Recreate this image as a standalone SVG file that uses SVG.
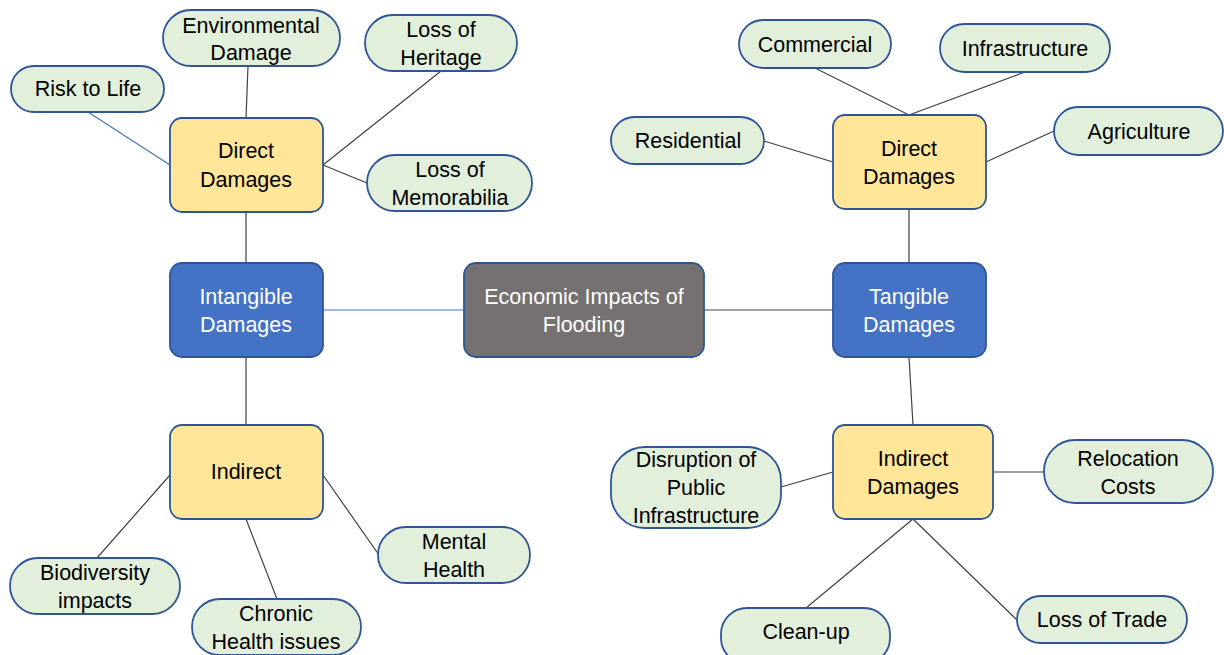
<svg xmlns="http://www.w3.org/2000/svg" width="1224" height="655" viewBox="0 0 1224 655">
<style>
.pill{fill:#E2EFDA;stroke:#2F5597;stroke-width:1.8}
.yel{fill:#FFE699;stroke:#2F5597;stroke-width:1.8}
.blu{fill:#4472C4;stroke:#2F5597;stroke-width:1.8}
.gry{fill:#767171;stroke:#2F5597;stroke-width:1.8}
text{font-family:"Liberation Sans",Arial,sans-serif;font-size:21.5px;text-anchor:middle;fill:#000}
.w{fill:#fff}
.c line{stroke:#404040;stroke-width:1.2}
.c line.b{stroke:#4472C4}
</style>
<rect width="1224" height="655" fill="#fff"/>
<g class="c" id="connectors">
<line class="b" x1="88" y1="112" x2="170" y2="165"/>
<line x1="248" y1="66" x2="246" y2="118"/>
<line x1="441" y1="71" x2="323" y2="165"/>
<line x1="367" y1="183" x2="323" y2="165"/>
<line x1="246" y1="212" x2="246" y2="263"/>
<line class="b" x1="323" y1="310" x2="464" y2="310"/>
<line x1="704" y1="310" x2="833" y2="310"/>
<line x1="246" y1="357" x2="246" y2="425"/>
<line x1="170" y1="475" x2="97" y2="558"/>
<line x1="246" y1="519" x2="277" y2="599"/>
<line x1="323" y1="475" x2="379" y2="555"/>
<line x1="815" y1="68" x2="909" y2="115"/>
<line x1="1025" y1="72" x2="909" y2="115"/>
<line x1="764" y1="141" x2="833" y2="162"/>
<line x1="1054" y1="131" x2="986" y2="162"/>
<line x1="909" y1="209" x2="909" y2="263"/>
<line x1="909" y1="357" x2="913" y2="425"/>
<line x1="781" y1="487" x2="833" y2="472"/>
<line x1="993" y1="472" x2="1044" y2="472"/>
<line x1="913" y1="519" x2="806" y2="608"/>
<line x1="913" y1="519" x2="1017" y2="620"/>
</g>
<g id="risk-to-life"><rect class="pill" x="11" y="66" width="153" height="46" rx="23"/><text x="88" y="96">Risk to Life</text></g>
<g id="environmental-damage"><rect class="pill" x="163" y="10" width="177" height="56" rx="28"/><text x="251" y="33">Environmental</text><text x="251" y="60">Damage</text></g>
<g id="loss-of-heritage"><rect class="pill" x="365" y="15" width="152" height="56" rx="28"/><text x="441" y="37">Loss of</text><text x="441" y="65">Heritage</text></g>
<g id="direct-left"><rect class="yel" x="170" y="118" width="153" height="94" rx="12"/><text x="246" y="158">Direct</text><text x="246" y="187">Damages</text></g>
<g id="loss-of-memorabilia"><rect class="pill" x="367" y="155" width="165" height="56" rx="28"/><text x="450" y="177">Loss of</text><text x="450" y="205">Memorabilia</text></g>
<g id="intangible"><rect class="blu" x="170" y="263" width="153" height="94" rx="12"/><text class="w" x="246" y="304">Intangible</text><text class="w" x="246" y="332">Damages</text></g>
<g id="economic"><rect class="gry" x="464" y="263" width="240" height="94" rx="12"/><text class="w" x="584" y="304">Economic Impacts of</text><text class="w" x="584" y="332">Flooding</text></g>
<g id="tangible"><rect class="blu" x="833" y="263" width="153" height="94" rx="12"/><text class="w" x="909" y="304">Tangible</text><text class="w" x="909" y="332">Damages</text></g>
<g id="indirect-left"><rect class="yel" x="170" y="425" width="153" height="94" rx="12"/><text x="246" y="479">Indirect</text></g>
<g id="biodiversity"><rect class="pill" x="10" y="558" width="170" height="56" rx="28"/><text x="95" y="580">Biodiversity</text><text x="95" y="608">impacts</text></g>
<g id="chronic"><rect class="pill" x="192" y="599" width="169" height="56" rx="28"/><text x="276" y="621">Chronic</text><text x="276" y="649">Health issues</text></g>
<g id="mental"><rect class="pill" x="378" y="527" width="152" height="56" rx="28"/><text x="454" y="549">Mental</text><text x="454" y="577">Health</text></g>
<g id="commercial"><rect class="pill" x="739" y="20" width="152" height="48" rx="24"/><text x="815" y="52">Commercial</text></g>
<g id="infrastructure"><rect class="pill" x="940" y="24" width="170" height="48" rx="24"/><text x="1025" y="56">Infrastructure</text></g>
<g id="residential"><rect class="pill" x="611" y="117" width="153" height="47" rx="23.5"/><text x="688" y="148">Residential</text></g>
<g id="direct-right"><rect class="yel" x="833" y="115" width="153" height="94" rx="12"/><text x="909" y="156">Direct</text><text x="909" y="184">Damages</text></g>
<g id="agriculture"><rect class="pill" x="1054" y="107" width="169" height="48" rx="24"/><text x="1139" y="139">Agriculture</text></g>
<g id="indirect-right"><rect class="yel" x="833" y="425" width="160" height="94" rx="12"/><text x="913" y="466">Indirect</text><text x="913" y="494">Damages</text></g>
<g id="disruption"><rect class="pill" x="611" y="447" width="170" height="81" rx="34"/><text x="696" y="467">Disruption of</text><text x="696" y="495">Public</text><text x="696" y="523">Infrastructure</text></g>
<g id="relocation"><rect class="pill" x="1044" y="440" width="169" height="63" rx="31"/><text x="1128" y="466">Relocation</text><text x="1128" y="494">Costs</text></g>
<g id="clean-up"><rect class="pill" x="721" y="608" width="169" height="56" rx="26"/><text x="806" y="639">Clean-up</text></g>
<g id="loss-of-trade"><rect class="pill" x="1017" y="596" width="170" height="47" rx="23.5"/><text x="1102" y="627">Loss of Trade</text></g>
</svg>
